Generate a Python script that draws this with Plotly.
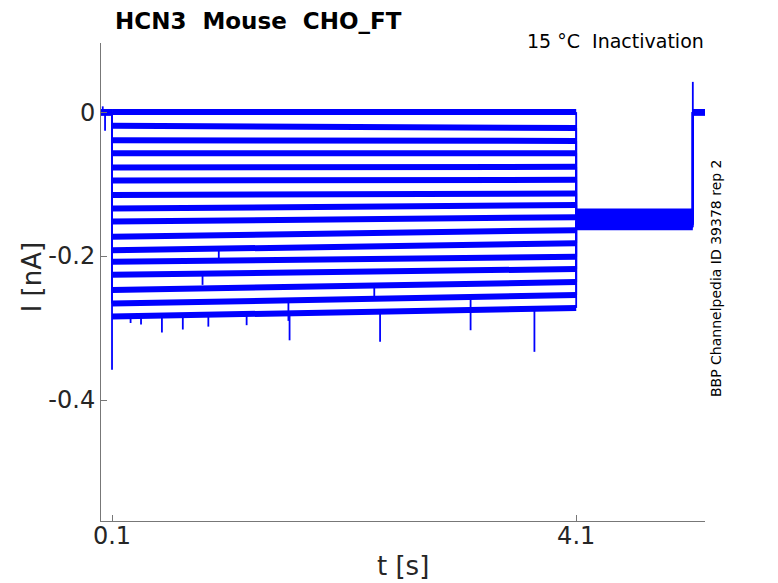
import plotly.graph_objects as go

# protocol times [s]
t_first = 0.005
t_on = 0.1
t_off = 4.1
t_back = 5.105
t_last = 5.21

# current levels during the step [nA], read at start and end of the step
level_start = [0.0, -0.019, -0.039, -0.057, -0.077, -0.095, -0.115, -0.134,
               -0.152, -0.173, -0.192, -0.208, -0.226, -0.247, -0.266, -0.284]
level_end = [0.0, -0.022, -0.040, -0.057, -0.076, -0.094, -0.113, -0.129,
             -0.146, -0.164, -0.182, -0.201, -0.218, -0.236, -0.254, -0.272]
# tail current after the step
tail_level = [-0.138, -0.140, -0.141, -0.143, -0.144, -0.145, -0.146, -0.147,
              -0.148, -0.149, -0.150, -0.151, -0.153, -0.155, -0.157, -0.160]

# onset transient and off artefact
transient_min = -0.358
pre_spike_t = [0.02, 0.04]
pre_spike_v = [0.008, -0.026]
back_peak = 0.042

# downward spikes on the lower traces (trace index, t, value)
spike_trace = [15, 15, 15, 15, 15, 15, 15, 14, 15, 14, 15, 12, 13, 10]
spike_t = [0.26, 0.35, 0.53, 0.71, 0.93, 1.26, 1.63, 1.62, 2.41, 3.19, 3.74,
           0.88, 2.36, 1.02]
spike_v = [-0.293, -0.295, -0.306, -0.302, -0.298, -0.296, -0.317, -0.290,
           -0.319, -0.303, -0.333, -0.240, -0.262, -0.206]

blue = "#0000ff"
n = len(level_start)

thick_x, thick_y = [], []
thin_x, thin_y = [], []

def level_at(i, t):
    frac = (t - t_on) / (t_off - t_on)
    return level_start[i] + frac * (level_end[i] - level_start[i])

for i in range(n):
    # holding before the step
    thick_x += [t_first, t_on, None]
    thick_y += [0.0, 0.0, None]
    # step plateau
    thick_x += [t_on, t_off, None]
    thick_y += [level_start[i], level_end[i], None]
    # tail
    thick_x += [t_off, t_back, None]
    thick_y += [tail_level[i], tail_level[i], None]
    # back to holding
    thick_x += [t_back, t_last, None]
    thick_y += [0.0, 0.0, None]
    # jumps
    low = transient_min if i == n - 1 else level_start[i]
    thin_x += [t_on, t_on, None]
    thin_y += [0.0, low, None]
    thin_x += [t_off, t_off, None]
    thin_y += [level_end[i], tail_level[i], None]
    top = back_peak if i == 0 else 0.0
    thin_x += [t_back, t_back, None]
    thin_y += [tail_level[i], top, None]

for k, tr in enumerate(spike_trace):
    thin_x += [spike_t[k], spike_t[k], None]
    thin_y += [level_at(tr, spike_t[k]), spike_v[k], None]

for k in range(len(pre_spike_t)):
    thin_x += [pre_spike_t[k], pre_spike_t[k], None]
    thin_y += [0.0, pre_spike_v[k], None]

fig = go.Figure()
fig.add_trace(go.Scatter(x=thick_x, y=thick_y, mode="lines",
                         line=dict(color=blue, width=6),
                         showlegend=False, hoverinfo="skip"))
fig.add_trace(go.Scatter(x=thin_x, y=thin_y, mode="lines",
                         line=dict(color=blue, width=1.8),
                         showlegend=False, hoverinfo="skip"))

axis_font = dict(family="DejaVu Sans", size=24, color="#262626")
axis_line = "#777777"
# page has 8px body margin, so the figure is 8px smaller and left/top margins shifted
fig.update_layout(
    width=770, height=575,
    margin=dict(l=93, r=73, t=35, b=62),
    plot_bgcolor="white", paper_bgcolor="white",
    title=dict(text="HCN3\u00a0 Mouse\u00a0 CHO_FT", x=107 / 770, xanchor="left",
               y=1 - 13 / 575, yanchor="middle",
               font=dict(family="DejaVu Sans", size=23, color="black", weight="bold")),
    xaxis=dict(range=[t_first, t_last], tickvals=[0.1, 4.1], ticktext=["0.1", "4.1"],
               ticks="inside", ticklen=6, tickcolor=axis_line, ticklabelstandoff=-7,
               showline=True, linecolor=axis_line, linewidth=1,
               showgrid=False, zeroline=False, tickfont=axis_font),
    yaxis=dict(range=[-0.568, 0.096], tickvals=[0, -0.2, -0.4],
               ticktext=["0", "-0.2", "-0.4"],
               ticks="inside", ticklen=6, tickcolor=axis_line,
               showline=True, linecolor=axis_line, linewidth=1,
               showgrid=False, zeroline=False, tickfont=axis_font),
)

fig.add_annotation(text="t [s]", xref="paper", yref="paper", x=0.5, y=-0.094,
                   showarrow=False, xanchor="center", yanchor="middle",
                   font=dict(family="DejaVu Sans", size=26, color="#262626"))
fig.add_annotation(text="I [nA]", xref="paper", yref="paper", x=-0.114, y=0.51,
                   showarrow=False, textangle=-90, xanchor="center", yanchor="middle",
                   font=dict(family="DejaVu Sans", size=26, color="#262626"))
fig.add_annotation(text="15 °C\u00a0 Inactivation", xref="paper", yref="paper",
                   x=1.002, y=1.004, showarrow=False, xanchor="right", yanchor="middle",
                   font=dict(family="DejaVu Sans", size=19, color="black"))
fig.add_annotation(text="BBP Channelpedia ID 39378 rep 2", xref="paper", yref="paper",
                   x=1.018, y=0.508, showarrow=False, textangle=-90,
                   xanchor="center", yanchor="middle",
                   font=dict(family="DejaVu Sans", size=14, color="black"))

fig.write_html("out.html")
